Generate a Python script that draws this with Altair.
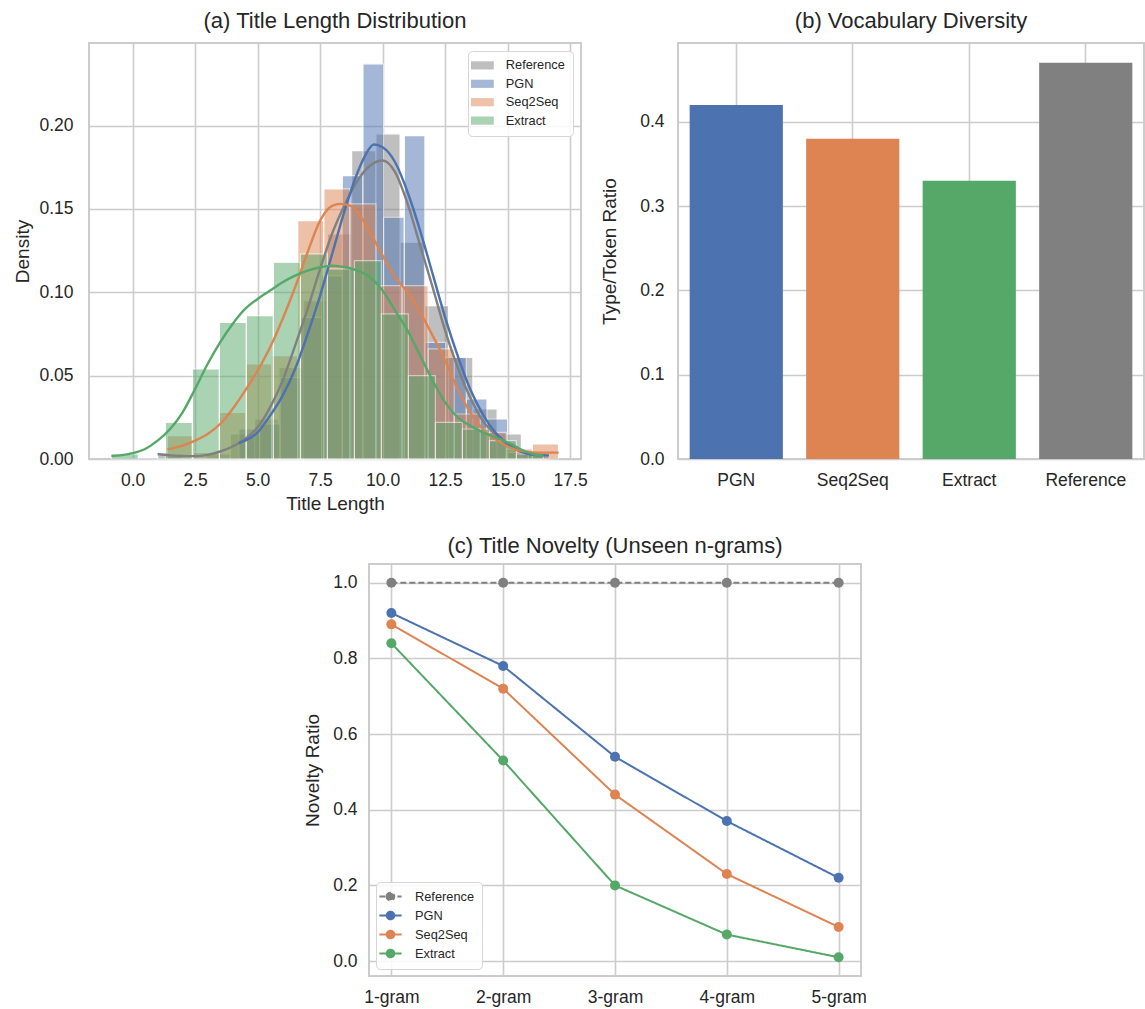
import altair as alt
import pandas as pd

FONT = "Liberation Sans"
TXT = "#262626"
GRID = "#cccccc"
BLUE, ORANGE, GREEN, GRAY = "#4C72B0", "#DD8452", "#55A868", "#808080"

# ---------------- (a) Title length distribution ----------------
hist_models = ["Reference", "PGN", "Seq2Seq", "Extract"]
hist_colors = [GRAY, BLUE, ORANGE, GREEN]
hist_bin_start = [1.0, 4.25, 1.39, -0.85]
hist_bin_width = [0.97, 0.827, 1.043, 1.08]
ref_hist = [0.003, 0.0, 0.003, 0.015, 0.024, 0.055, 0.095, 0.135, 0.185, 0.195,
            0.130, 0.092, 0.061, 0.030, 0.015, 0.003]
pgn_hist = [0.018, 0.021, 0.049, 0.085, 0.110, 0.170, 0.237, 0.145, 0.194, 0.070,
            0.061, 0.036, 0.024, 0.004, 0.003]
s2s_hist = [0.014, 0.004, 0.028, 0.057, 0.062, 0.143, 0.162, 0.153, 0.104, 0.104,
            0.066, 0.027, 0.016, 0.006, 0.009]
ext_hist = [0.003, 0.0, 0.022, 0.054, 0.082, 0.086, 0.118, 0.123, 0.114, 0.119,
            0.087, 0.050, 0.022, 0.018, 0.011, 0.003]
hist_values = [ref_hist, pgn_hist, s2s_hist, ext_hist]

ref_kde_x = [1.0, 1.5, 2.0, 2.5, 3.0, 3.5, 4.0, 4.5, 5.0, 5.5, 6.0, 6.5, 7.0, 7.5, 8.0, 8.5,
             9.0, 9.5, 10.0, 10.5, 11.0, 11.5, 12.0, 12.5, 13.0, 13.5, 14.0, 14.5, 15.0,
             15.5, 16.0, 16.52]
ref_kde_y = [0.003, 0.0022, 0.0018, 0.0017, 0.0025, 0.0045, 0.0075, 0.012, 0.019, 0.031,
             0.047, 0.068, 0.090, 0.114, 0.136, 0.153, 0.167, 0.176, 0.179, 0.172, 0.153,
             0.128, 0.103, 0.077, 0.055, 0.037, 0.023, 0.015, 0.009, 0.005, 0.003, 0.0025]
pgn_kde_x = [4.25, 4.5, 5.0, 5.5, 6.0, 6.5, 7.0, 7.5, 8.0, 8.5, 9.0, 9.3, 9.65, 10.0, 10.5,
             11.0, 11.5, 12.0, 12.5, 13.0, 13.5, 14.0, 14.5, 15.0, 15.5, 16.0, 16.65]
pgn_kde_y = [0.0096, 0.011, 0.016, 0.026, 0.038, 0.054, 0.075, 0.098, 0.124, 0.150, 0.172,
             0.182, 0.1886, 0.187, 0.178, 0.160, 0.137, 0.111, 0.085, 0.062, 0.042, 0.027,
             0.016, 0.009, 0.0045, 0.0025, 0.0022]
s2s_kde_x = [1.39, 2.0, 2.5, 3.0, 3.5, 4.0, 4.5, 5.0, 5.5, 6.0, 6.5, 7.0, 7.5, 8.0, 8.3,
             8.7, 9.0, 9.5, 10.0, 10.5, 11.0, 11.5, 12.0, 12.5, 13.0, 13.5, 14.0, 14.5,
             15.0, 15.5, 16.0, 16.5, 17.04]
s2s_kde_y = [0.0058, 0.008, 0.011, 0.015, 0.021, 0.030, 0.041, 0.053, 0.067, 0.084, 0.103,
             0.124, 0.143, 0.152, 0.153, 0.152, 0.148, 0.136, 0.122, 0.109, 0.100, 0.088,
             0.074, 0.059, 0.042, 0.028, 0.018, 0.012, 0.0075, 0.005, 0.004, 0.0038, 0.0038]
ext_kde_x = [-0.85, -0.5, 0.0, 0.5, 1.0, 1.5, 2.0, 2.5, 3.0, 3.5, 4.0, 4.5, 5.0, 5.5, 6.0,
             6.5, 7.0, 7.5, 8.0, 8.5, 9.0, 9.5, 10.0, 10.5, 11.0, 11.5, 12.0, 12.5, 13.0,
             13.5, 14.0, 14.5, 15.0, 15.5, 16.0, 16.43]
ext_kde_y = [0.0018, 0.0022, 0.0035, 0.006, 0.011, 0.018, 0.028, 0.042, 0.057, 0.070, 0.081,
             0.090, 0.096, 0.101, 0.106, 0.110, 0.113, 0.115, 0.116, 0.115, 0.113, 0.109,
             0.101, 0.089, 0.077, 0.062, 0.047, 0.034, 0.025, 0.020, 0.016, 0.013, 0.010,
             0.006, 0.003, 0.002]
kde_xs = [ref_kde_x, pgn_kde_x, s2s_kde_x, ext_kde_x]
kde_ys = [ref_kde_y, pgn_kde_y, s2s_kde_y, ext_kde_y]

# ---------------- (b) Vocabulary diversity ----------------
div_models = ["PGN", "Seq2Seq", "Extract", "Reference"]
div_ttr = [0.42, 0.38, 0.33, 0.47]
div_colors = [BLUE, ORANGE, GREEN, GRAY]

# ---------------- (c) Title novelty ----------------
ngram_labels = ["1-gram", "2-gram", "3-gram", "4-gram", "5-gram"]
nov_models = ["Reference", "PGN", "Seq2Seq", "Extract"]
nov_reference = [1.0, 1.0, 1.0, 1.0, 1.0]
nov_pgn = [0.92, 0.78, 0.54, 0.37, 0.22]
nov_s2s = [0.89, 0.72, 0.44, 0.23, 0.09]
nov_ext = [0.84, 0.53, 0.20, 0.07, 0.01]
nov_values = [nov_reference, nov_pgn, nov_s2s, nov_ext]

# ---------------- tables ----------------
rows = []
for k, (m, s, w, vals) in enumerate(zip(hist_models, hist_bin_start, hist_bin_width, hist_values)):
    for i, v in enumerate(vals):
        rows.append({"model_a": m, "x0": s + i * w, "x1": s + (i + 1) * w,
                     "dens": v, "base": 0.0, "ord": k})
df_hist = pd.DataFrame(rows)

rows = []
for k, (m, xs, ys) in enumerate(zip(hist_models, kde_xs, kde_ys)):
    for x, y in zip(xs, ys):
        rows.append({"model_a": m, "kx": x, "ky": y, "ord": k})
df_kde = pd.DataFrame(rows)

df_div = pd.DataFrame({"model_b": div_models, "ttr": div_ttr})

rows = []
for m, vals in zip(nov_models, nov_values):
    for g, v in zip(ngram_labels, vals):
        rows.append({"model_c": m, "ngram": g, "ratio": v})
df_nov = pd.DataFrame(rows)

# ---------------- panel (a) ----------------
xa = alt.X("x0:Q", scale=alt.Scale(domain=[-1.744, 17.934], nice=False, zero=False),
           axis=alt.Axis(values=[0, 2.5, 5, 7.5, 10, 12.5, 15, 17.5], format=".1f",
                         title="Title Length"))
ya = alt.Y("dens:Q", scale=alt.Scale(domain=[0, 0.2495], nice=False),
           axis=alt.Axis(values=[0, 0.05, 0.1, 0.15, 0.2], format=".2f", title="Density",
                         labelPadding=16, titlePadding=6))
color_a_scale = alt.Scale(domain=hist_models, range=hist_colors)

bars_a = alt.Chart(df_hist).mark_rect(opacity=0.5, stroke="white", strokeWidth=1.2).encode(
    x=xa, x2="x1:Q", y=ya, y2="base:Q",
    color=alt.Color("model_a:N", scale=color_a_scale, legend=alt.Legend(
        title=None, orient="top-right", offset=8, padding=8,
        symbolType="M-1.9,-0.68L1.9,-0.68L1.9,0.68L-1.9,0.68Z", symbolSize=144,
        symbolOpacity=0.5, symbolStrokeWidth=0,
        labelFont=FONT, labelFontSize=12.8, labelColor=TXT, labelOffset=17,
        rowPadding=4.4, fillColor="rgba(255,255,255,0.85)", strokeColor="#d6d6d6",
        cornerRadius=4)),
    order="ord:Q",
)
kde_a = alt.Chart(df_kde).mark_line(strokeWidth=2.4, interpolate="monotone").encode(
    x=alt.X("kx:Q", scale=alt.Scale(domain=[-1.744, 17.934], nice=False, zero=False)),
    y=alt.Y("ky:Q", scale=alt.Scale(domain=[0, 0.2495], nice=False)),
    color=alt.Color("model_a:N", scale=color_a_scale, legend=None),
)
chart_a = alt.layer(bars_a, kde_a).properties(
    width=492, height=416, title="(a) Title Length Distribution")

# ---------------- panel (b) ----------------
chart_b = alt.Chart(df_div).mark_bar().encode(
    x=alt.X("model_b:N", sort=div_models,
            scale=alt.Scale(paddingInner=0.2, paddingOuter=0.1),
            axis=alt.Axis(title=None, labelAngle=0, bandPosition=0.5)),
    y=alt.Y("ttr:Q", scale=alt.Scale(domain=[0, 0.4935], nice=False),
            axis=alt.Axis(values=[0, 0.1, 0.2, 0.3, 0.4], format=".1f",
                          title="Type/Token Ratio", labelPadding=14, titlePadding=20)),
    color=alt.Color("model_b:N", scale=alt.Scale(domain=div_models, range=div_colors),
                    legend=None),
).properties(width=466, height=416, title="(b) Vocabulary Diversity")

# ---------------- panel (c) ----------------
xc = alt.X("ngram:N", sort=ngram_labels, scale=alt.Scale(type="point", padding=0.2),
           axis=alt.Axis(title=None, labelAngle=0))
yc = alt.Y("ratio:Q", scale=alt.Scale(domain=[-0.0395, 1.0495], nice=False),
           axis=alt.Axis(values=[0, 0.2, 0.4, 0.6, 0.8, 1.0], format=".1f",
                         title="Novelty Ratio", labelPadding=12, titlePadding=10))
color_c_scale = alt.Scale(domain=nov_models, range=[GRAY, BLUE, ORANGE, GREEN])
dash_c_scale = alt.Scale(domain=nov_models, range=[[6, 3], [1, 0], [1, 0], [1, 0]])
leg_c = alt.Legend(
    title=None, orient="bottom-left", offset=7, padding=7,
    symbolType="M-1.85,0L1.85,0M-0.62,0A0.62,0.62,0,1,1,0.62,0A0.62,0.62,0,1,1,-0.62,0Z",
    symbolSize=144, symbolStrokeWidth=2.2,
    labelFont=FONT, labelFontSize=12.8, labelColor=TXT, labelOffset=17,
    rowPadding=2, fillColor="rgba(255,255,255,0.85)", strokeColor="#d6d6d6",
    cornerRadius=4)
lines_c = alt.Chart(df_nov).mark_line(strokeWidth=2).encode(
    x=xc, y=yc,
    color=alt.Color("model_c:N", scale=color_c_scale, legend=leg_c),
    strokeDash=alt.StrokeDash("model_c:N", scale=dash_c_scale, legend=leg_c),
)
points_c = alt.Chart(df_nov).mark_point(filled=True, size=100, opacity=1).encode(
    x=xc, y=yc,
    color=alt.Color("model_c:N", scale=color_c_scale, legend=None),
)
chart_c = alt.layer(lines_c, points_c).properties(
    width=492, height=412,
    title=alt.TitleParams("(c) Title Novelty (Unseen n-grams)", offset=6))

# invisible spacer that shifts panel (c) to the centre of the bottom row
spacer = alt.Chart(pd.DataFrame({"s": [0]})).mark_point(opacity=0).encode(
    x=alt.value(0), y=alt.value(0)
).properties(width=202, height=10, view=alt.ViewBackground(stroke="transparent"))

top = alt.hconcat(chart_a, chart_b, spacing=10).resolve_scale(color="independent")
bottom = alt.hconcat(spacer, chart_c, spacing=10).resolve_scale(
    color="independent", strokeDash="independent")
chart = alt.vconcat(top, bottom, spacing=19).resolve_scale(
    color="independent", strokeDash="independent").properties(
    padding={"left": 12, "top": 9, "right": 0, "bottom": 0}
).configure_view(
    stroke=GRID, strokeWidth=2
).configure_axis(
    domain=False, ticks=False, grid=True, gridColor=GRID, gridWidth=1.6,
    labelFont=FONT, labelFontSize=17.5, labelColor=TXT, labelPadding=12,
    titleFont=FONT, titleFontSize=19, titleFontWeight="normal", titleColor=TXT,
    titlePadding=6,
).configure_title(
    font=FONT, fontSize=22, fontWeight="normal", color=TXT, offset=10
)

chart.save("out.html", embed_options={"renderer": "svg", "actions": False})
